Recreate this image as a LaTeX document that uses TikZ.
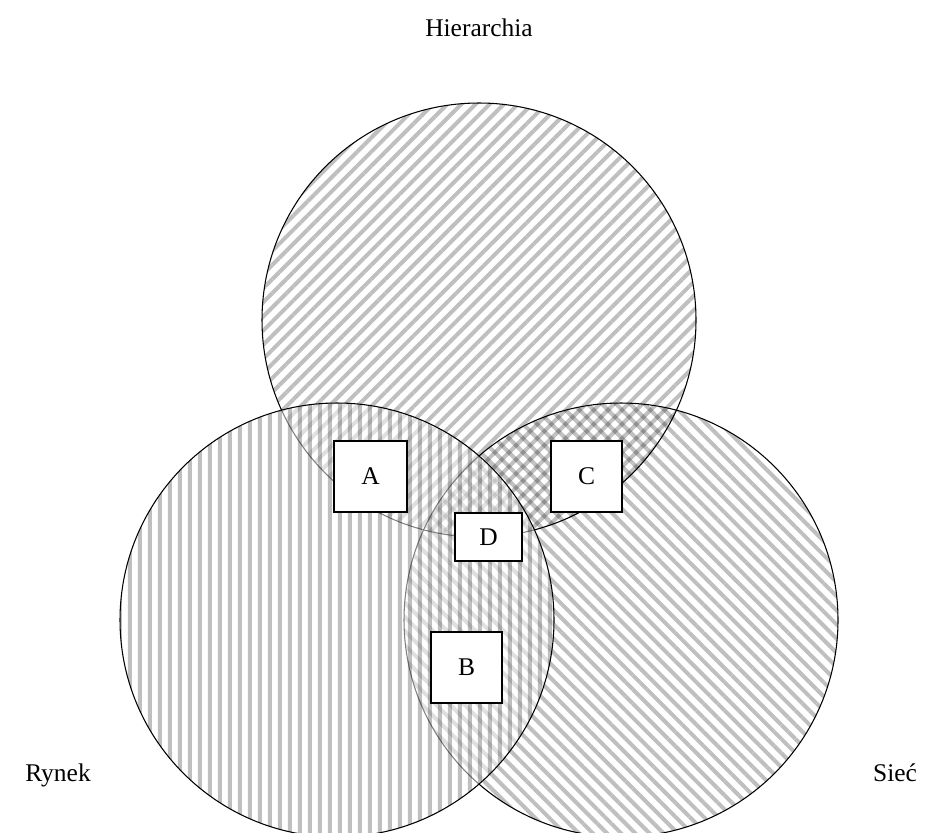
\documentclass[tikz,border=0pt]{standalone}
\usepackage{fontspec}
\setmainfont{Liberation Serif}
\usetikzlibrary{patterns.meta}
\tikzset{
  circ/.style={draw=black, line width=0.6pt},
  stripes/.style={pattern={Lines[angle=#1,distance=0.2cm,line width=0.08cm]}, pattern color=black},
  lbox/.style={draw=black, line width=1.1pt, fill=white, font=\fontsize{14.5}{17}\selectfont},
  lab/.style={font=\fontsize{14.5}{17}\selectfont}
}
\begin{document}
\begin{tikzpicture}[x=0.02cm,y=-0.02cm]
\useasboundingbox (0,0) rectangle (935,832);
\coordinate (ct) at (479,320);
\coordinate (cl) at (337,620);
\coordinate (cr) at (621,620);
% top circle
\begin{scope}[transparency group, opacity=0.25]
\fill[stripes=45] (ct) circle[radius=217];
\end{scope}
\draw[circ] (ct) circle[radius=217];
% right circle
\begin{scope}[transparency group, opacity=0.25]
\fill[stripes=-45] (cr) circle[radius=217];
\end{scope}
\draw[circ] (cr) circle[radius=217];
% left circle
\fill[white, fill opacity=0.5] (cl) circle[radius=217];
\begin{scope}[transparency group, opacity=0.25]
\fill[stripes=90] (cl) circle[radius=217];
\end{scope}
\draw[circ] (cl) circle[radius=217];
% boxes
\node[lbox, minimum width=73*0.02cm, minimum height=71*0.02cm] (A) at (370.5,476.5) {A};
\node[lbox, minimum width=71*0.02cm, minimum height=71*0.02cm] (C) at (586.5,476.5) {C};
\node[lbox, minimum width=67*0.02cm, minimum height=48*0.02cm] (D) at (488.5,537) {D};
\node[lbox, minimum width=71*0.02cm, minimum height=71*0.02cm] (B) at (466.5,667.5) {B};
% labels
\node[lab, anchor=base] (H) at (479,36) {Hierarchia};
\node[lab, anchor=base] (R) at (58,781) {Rynek};
\node[lab, anchor=base] (S) at (895,781) {Sieć};
\end{tikzpicture}
\end{document}
